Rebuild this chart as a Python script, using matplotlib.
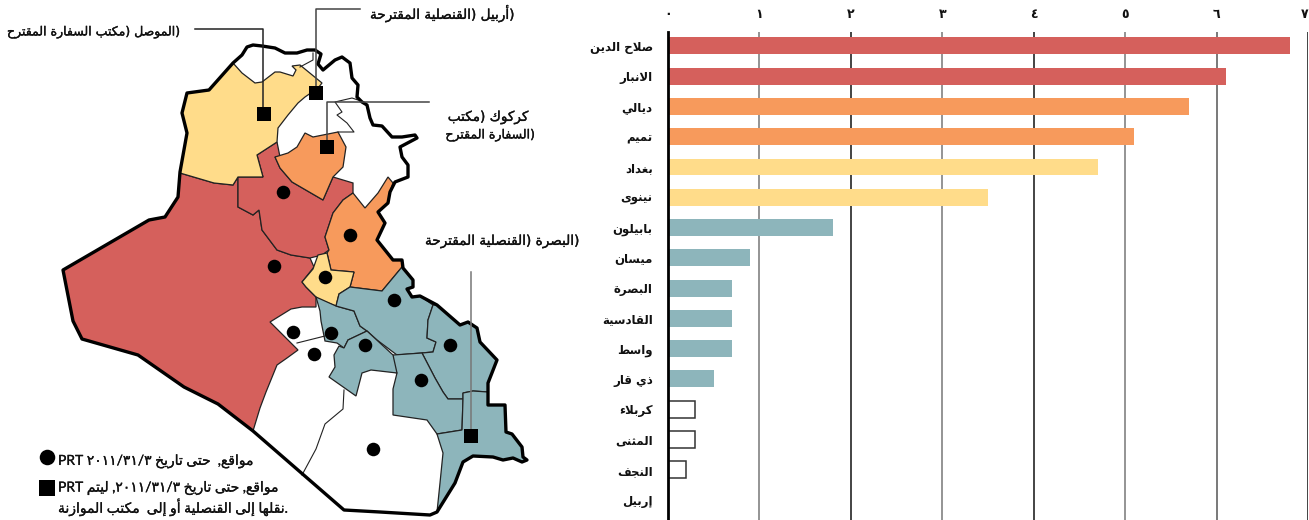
import re
import unicodedata
import matplotlib
matplotlib.use("Agg")
import matplotlib.pyplot as plt
import matplotlib.patheffects as pe

# --- arabic shaping: matplotlib does not join letters or run right to left
FORMS = {}
for cp in range(0xFE70, 0xFEFD):
    d = unicodedata.decomposition(chr(cp))
    if d.startswith("<"):
        tag, *codes = d.split()
        base = "".join(chr(int(c, 16)) for c in codes)
        FORMS.setdefault(base, {})[tag] = chr(cp)


def ar(text):
    for la in ("لا", "لأ", "لإ", "لآ"):
        text = text.replace(la, "\0" + la[1])
    chars = []
    for c in text:
        if chars and chars[-1] == "\0":
            chars[-1] = "ل" + c
        else:
            chars.append(c)
    out = []
    for i, c in enumerate(chars):
        if c not in FORMS:
            out.append(c)
            continue
        prev = chars[i - 1] if i else ""
        nxt = chars[i + 1] if i + 1 < len(chars) else ""
        j_prev = prev in FORMS and "<initial>" in FORMS[prev] and "<final>" in FORMS[c]
        j_next = nxt in FORMS and "<initial>" in FORMS[c]
        if j_prev and j_next:
            tag = "<medial>"
        elif j_prev:
            tag = "<final>"
        elif j_next:
            tag = "<initial>"
        else:
            tag = "<isolated>"
        out.append(FORMS[c][tag])
    vis = "".join(out)[::-1]
    return re.sub(r"[A-Za-z0-9٠-٩/]+", lambda m: m.group(0)[::-1], vis)


# --- bar data
provinces = ["صلاح الدين", "الانبار", "ديالي", "تميم", "بغداد", "نينوى", "بابيلون", "ميسان",
             "البصرة", "القادسية", "واسط", "ذي قار", "كربلاء", "المثنى", "النجف", "إربيل"]
values = [6.8, 6.1, 5.7, 5.1, 4.7, 3.5, 1.8, 0.9, 0.7, 0.7, 0.7, 0.5, 0.3, 0.3, 0.2, 0]
xtick_labels = ["٠", "١", "٢", "٣", "٤", "٥", "٦", "٧"]
grid_colors = ["#000000", "#777777", "#111111", "#777777", "#111111", "#777777", "#555555", "#111111"]

RED = "#d5605c"
ORANGE = "#f79a5c"
YELLOW = "#ffdc8a"
TEAL = "#8db5bb"
bar_colors = [RED, RED, ORANGE, ORANGE, YELLOW, YELLOW] + [TEAL] * 6 + ["white"] * 4

# --- map data (pixel coordinates)
outline = [(233, 63), (242, 55), (247, 47), (253, 45), (262, 46), (275, 48), (285, 53), (297, 53),
           (307, 50), (315, 50), (321, 54), (318, 64), (323, 70), (335, 60), (342, 57), (350, 63),
           (352, 78), (358, 85), (357, 97), (362, 102), (367, 105), (370, 118), (373, 125),
           (382, 126), (392, 137), (402, 137), (415, 135), (417, 138), (400, 147), (402, 157),
           (408, 165), (408, 177), (395, 182), (390, 192), (388, 203), (378, 212), (385, 223),
           (377, 240), (393, 260), (402, 260), (403, 268), (413, 280), (413, 287), (407, 289),
           (412, 297), (420, 296), (437, 305), (460, 325), (468, 322), (477, 328), (480, 342),
           (497, 360), (488, 383), (488, 405), (505, 405), (506, 432), (512, 434), (522, 447),
           (523, 457), (527, 460), (522, 462), (513, 458), (503, 460), (493, 457), (473, 456),
           (463, 462), (455, 483), (437, 512), (430, 515), (380, 512), (344, 510), (253, 431),
           (218, 404), (184, 387), (138, 355), (82, 339), (73, 321), (63, 270), (149, 220),
           (165, 217), (178, 197), (180, 172), (187, 133), (182, 113), (187, 93), (209, 90)]
ninawa = [(233, 63), (242, 73), (255, 83), (262, 82), (275, 72), (280, 72), (293, 76), (296, 70),
          (292, 66), (300, 65), (322, 83), (318, 88), (305, 97), (298, 103), (288, 115),
          (278, 128), (277, 142), (257, 155), (263, 177), (238, 177), (233, 185), (214, 183),
          (180, 173), (187, 133), (182, 113), (187, 93), (209, 90)]
anbar = [(180, 173), (214, 183), (233, 185), (238, 177), (238, 207), (253, 215), (259, 210),
         (262, 230), (277, 250), (291, 255), (310, 258), (314, 267), (302, 282), (306, 287),
         (316, 297), (316, 307), (302, 307), (291, 309), (270, 322), (298, 350), (287, 358),
         (277, 365), (266, 392), (260, 408), (253, 431), (218, 404), (184, 387), (138, 355),
         (82, 339), (73, 321), (63, 270), (149, 220), (165, 217), (178, 197)]
salah = [(277, 142), (257, 155), (263, 177), (238, 177), (238, 207), (253, 215), (259, 210),
         (262, 230), (277, 250), (291, 255), (310, 258), (322, 255), (329, 250), (325, 237),
         (333, 213), (343, 200), (353, 193), (353, 183), (333, 177), (323, 200), (292, 182),
         (280, 168), (275, 157), (280, 157)]
tamim = [(275, 157), (288, 153), (297, 147), (305, 133), (313, 137), (338, 132), (346, 147),
         (343, 167), (333, 177), (323, 200), (292, 182), (280, 168)]
diyala = [(353, 193), (365, 208), (378, 193), (388, 177), (393, 183), (390, 192), (388, 203),
          (378, 212), (385, 223), (377, 240), (393, 260), (402, 260), (402, 267), (382, 291),
          (350, 287), (354, 272), (331, 270), (327, 253), (329, 250), (325, 237), (333, 213),
          (343, 200)]
baghdad = [(318, 255), (327, 253), (331, 270), (354, 272), (350, 287), (339, 294), (336, 306),
           (318, 299), (306, 287), (302, 282), (313, 269)]
babil = [(316, 297), (336, 306), (354, 311), (360, 326), (367, 331), (348, 340), (344, 348),
         (337, 343), (325, 341), (321, 321), (320, 311)]
wasit = [(339, 294), (350, 287), (382, 291), (402, 267), (403, 268), (413, 280), (413, 287),
         (407, 289), (412, 297), (420, 296), (433, 305), (428, 320), (427, 338), (436, 342),
         (433, 352), (397, 355), (377, 340), (367, 331), (360, 326), (354, 311), (336, 306)]
maysan = [(433, 305), (437, 305), (460, 325), (468, 322), (477, 328), (480, 342), (497, 360),
          (488, 383), (488, 392), (473, 391), (463, 393), (463, 399), (448, 399), (443, 392),
          (435, 378), (422, 353), (433, 352), (436, 342), (427, 338), (428, 320)]
dhiqar = [(393, 355), (422, 353), (435, 378), (443, 392), (448, 399), (463, 399), (462, 430),
          (437, 434), (427, 420), (393, 415), (393, 402), (393, 389), (397, 373), (394, 372)]
qadisiya = [(344, 348), (348, 340), (367, 331), (393, 355), (397, 373), (371, 370), (362, 373),
            (356, 396), (329, 377), (335, 367), (334, 355), (339, 346)]
basra = [(463, 399), (463, 393), (473, 391), (488, 392), (488, 405), (505, 405), (506, 432),
         (512, 434), (522, 447), (523, 457), (527, 460), (522, 462), (513, 458), (503, 460),
         (493, 457), (473, 456), (463, 462), (455, 483), (437, 512), (440, 483), (443, 453),
         (437, 434), (462, 430)]
regions = [(anbar, RED), (salah, RED), (ninawa, YELLOW), (tamim, ORANGE), (diyala, ORANGE),
           (baghdad, YELLOW), (babil, TEAL), (wasit, TEAL), (maysan, TEAL), (dhiqar, TEAL),
           (qadisiya, TEAL), (basra, TEAL)]
thin_lines = [[(297, 343), (325, 336)],
              [(344, 390), (343, 409), (325, 424), (316, 449), (302, 475)],
              [(313, 53), (313, 60), (300, 67)],
              [(358, 100), (352, 98), (335, 102), (342, 112), (337, 115), (347, 123), (354, 132), (338, 132)]]
dots = [(283, 192), (350, 235), (274, 266), (325, 277), (394, 300), (293, 332), (331, 333),
        (314, 354), (365, 345), (450, 345), (421, 380), (373, 449)]
squares = [(264, 114), (316, 93), (327, 147), (471, 436)]
leaders = [([195, 263, 263], [29, 29, 110], "#222222"),
           ([360, 316, 316], [9, 9, 90], "#444444"),
           ([429, 327, 327], [102, 102, 145], "#444444"),
           ([471, 471], [272, 432], "#777777")]

fig = plt.figure(figsize=(13.09, 5.2), dpi=100)

# map and its texts, in pixel coordinates
m = fig.add_axes([0, 0, 1, 1])
m.set_xlim(0, 1309)
m.set_ylim(520, 0)
m.axis("off")
for pts, col in regions:
    m.fill(*zip(*pts), facecolor=col, edgecolor="#222222", linewidth=0.9, zorder=2)
for pts in thin_lines:
    m.plot(*zip(*pts), color="#222222", linewidth=0.8, zorder=2)
m.fill(*zip(*outline), facecolor="none", edgecolor="black", linewidth=2.4, joinstyle="round", zorder=3)
for xs, ys, col in leaders:
    m.plot(xs, ys, color=col, linewidth=1.1, zorder=4)
m.scatter(*zip(*dots), s=95, color="black", linewidths=0, zorder=5)
m.scatter(*zip(*squares), s=105, color="black", marker="s", linewidths=0, zorder=5)
m.scatter([47], [457], s=125, color="black", linewidths=0)
m.scatter([47], [488], s=125, color="black", marker="s", linewidths=0)

heavier = [pe.withStroke(linewidth=0.25, foreground="#111111")]
label_kw = dict(color="#111111", va="center", ha="right", family=["DejaVu Sans"], path_effects=heavier)
m.text(180, 32, ar(")الموصل )مكتب السفارة المقترح"), fontsize=9, **label_kw)
m.text(515, 13, ar(")أربيل )القنصلية المقترحة"), fontsize=9.8, **label_kw)
m.text(529, 117, ar("كركوك )مكتب"), fontsize=9.8, **label_kw)
m.text(535, 135, ar(")السفارة المقترح"), fontsize=9, **label_kw)
m.text(580, 241, ar(")البصرة )القنصلية المقترحة"), fontsize=9.8, **label_kw)
legend_kw = dict(fontsize=10, color="#111111", va="center", ha="left", family=["Lato", "DejaVu Sans"],
                 path_effects=[pe.withStroke(linewidth=0.2, foreground="#111111")])
m.text(58, 461, ar("مواقع,  حتى تاريخ ٢٠١١/٣١/٣ PRT"), **legend_kw)
m.text(58, 488, ar("مواقع, حتى تاريخ ٢٠١١/٣١/٣, ليتم PRT"), **legend_kw)
m.text(58, 507, ar(".نقلها إلى القنصلية أو إلى  مكتب الموازنة"), **legend_kw)

# bars
ax = fig.add_axes([668 / 1309, 0, 640 / 1309, 488 / 520])
ax.patch.set_alpha(0)
pos = list(range(len(provinces)))
ax.barh(pos, values, height=0.56, color=bar_colors, zorder=3)
for p, v, c in zip(pos, values, bar_colors):
    if c == "white" and v > 0:
        ax.barh(p, v, height=0.56, facecolor="white", edgecolor="#333333", linewidth=1.1, zorder=3)
ax.set_xlim(0, 7)
ax.set_ylim(15.66, -0.46)
ax.xaxis.tick_top()
ax.set_xticks(range(8))
ax.set_xticklabels(xtick_labels, fontsize=9, fontweight="bold", color="#111111")
ax.get_xticklabels()[-1].set_ha("right")
ax.set_yticks(pos)
ax.set_yticklabels([ar(p) for p in provinces], fontsize=8.5, fontweight="bold", color="#111111")
ax.tick_params(axis="both", length=0)
ax.tick_params(axis="x", pad=8)
ax.tick_params(axis="y", pad=11)
ax.grid(axis="x", linewidth=1.1, zorder=1)
for line, col in zip(ax.get_xgridlines(), grid_colors):
    line.set_color(col)
ax.set_axisbelow(True)
for side in ("top", "right", "bottom"):
    ax.spines[side].set_visible(False)
ax.spines["left"].set_linewidth(2)
ax.spines["left"].set_zorder(5)

fig.savefig("out.png", dpi=100)
